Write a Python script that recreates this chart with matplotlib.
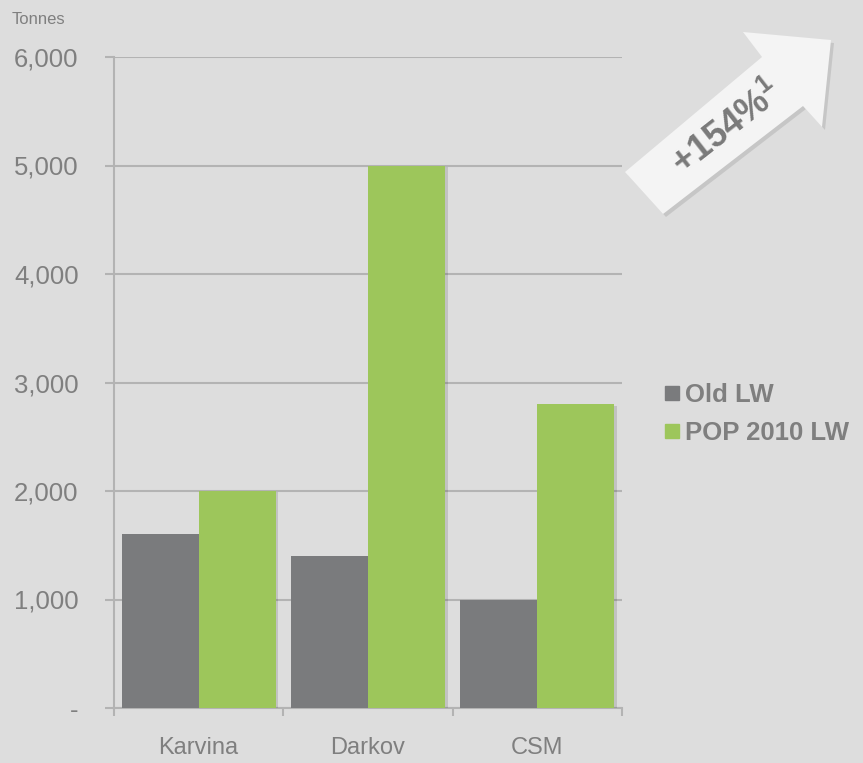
import matplotlib
matplotlib.use("Agg")
import matplotlib.pyplot as plt
import numpy as np
from matplotlib.patches import Polygon
from matplotlib.lines import Line2D
import matplotlib.patheffects as pe

categories = ["Karvina", "Darkov", "CSM"]
old_lw = [1600, 1400, 1000]
pop_lw = [2000, 5000, 2800]
series_names = ["Old LW", "POP 2010 LW"]
yticks = [0, 1000, 2000, 3000, 4000, 5000, 6000]
ytick_labels = ["-", "1,000", "2,000", "3,000", "4,000", "5,000", "6,000"]

BG = "#dddddd"
GRAY = "#7a7b7d"
GREEN = "#9dc65b"
TXT = "#7f7f7f"
GRID = "#b3b3b3"

plt.rcParams['font.family'] = ['Liberation Sans', 'DejaVu Sans']

W, H = 863, 763
fig = plt.figure(figsize=(W/100, H/100), dpi=100, facecolor=BG)
ax = fig.add_axes([114/W, 1-708/H, (622-114)/W, (708-57)/H])
ax.set_facecolor(BG)

x = np.arange(len(categories))
bw = 0.455
shadow = [pe.SimplePatchShadow(offset=(2, -1), shadow_rgbFace="#000000", alpha=0.12), pe.Normal()]
b1 = ax.bar(x - bw/2, old_lw, bw, color=GRAY, zorder=3)
b2 = ax.bar(x + bw/2, pop_lw, bw, color=GREEN, zorder=3)
for b in list(b1) + list(b2):
    b.set_path_effects(shadow)

ax.set_xlim(-0.5, 2.5)
ax.set_ylim(0, 6000)
ax.set_yticks(yticks)
ax.set_yticklabels(ytick_labels)
ax.yaxis.grid(True, color=GRID, linewidth=1.5, zorder=0)
ax.set_axisbelow(True)

ax.set_xticks(x)
ax.set_xticklabels(categories)
ax.set_xticks(np.arange(-0.5, 2.6, 1.0), minor=True)
ax.tick_params(axis='x', which='major', length=0, pad=21, labelsize=17, labelcolor=TXT)
ax.tick_params(axis='x', which='minor', length=6, width=1.5, color=GRID, direction='out')
ax.tick_params(axis='y', which='major', length=6.5, width=1.5, color=GRID, pad=19,
               labelsize=18.5, labelcolor=TXT)

for s in ["top", "right"]:
    ax.spines[s].set_visible(False)
for s in ["left", "bottom"]:
    ax.spines[s].set_color(GRID)
    ax.spines[s].set_linewidth(1.5)

fig.text(12/W, 1-20/H, "Tonnes", fontsize=12, color=TXT, va='center', ha='left')

handles = [Line2D([], [], marker='s', linestyle='none', markersize=9.5, color=c)
           for c in [GRAY, GREEN]]
leg = fig.legend(handles, series_names, loc='center left',
                 bbox_to_anchor=(664/W, 1-414/H), frameon=False,
                 handlelength=0.6, handletextpad=0.2, labelspacing=0.55,
                 borderpad=0, borderaxespad=0,
                 prop={'weight': 'bold', 'size': 18.5})
for t in leg.get_texts():
    t.set_color(TXT)

# Arrow annotation (figure pixel coordinates, y flipped)
pts = [(625, 172), (762, 57), (743, 32), (831, 40), (822, 127), (803, 106), (663, 214)]
pts_fig = [(px/W, 1-py/H) for px, py in pts]
shadow_pts = [(px/W + 3/W, 1-(py+3)/H) for px, py in pts]
fig.patches.append(Polygon(shadow_pts, closed=True, transform=fig.transFigure,
                           facecolor="#000000", alpha=0.10, edgecolor='none', zorder=1))
fig.patches.append(Polygon(pts_fig, closed=True, transform=fig.transFigure,
                           facecolor="#f4f4f4", edgecolor='none', zorder=2))
fig.text(727/W, 1-129/H, r"+154%$^{\mathregular{1}}$", fontsize=26, fontweight='bold',
         color="#7a7a7a", rotation=38, rotation_mode='anchor', ha='center', va='center')

fig.savefig("out.png", dpi=100, facecolor=BG)
